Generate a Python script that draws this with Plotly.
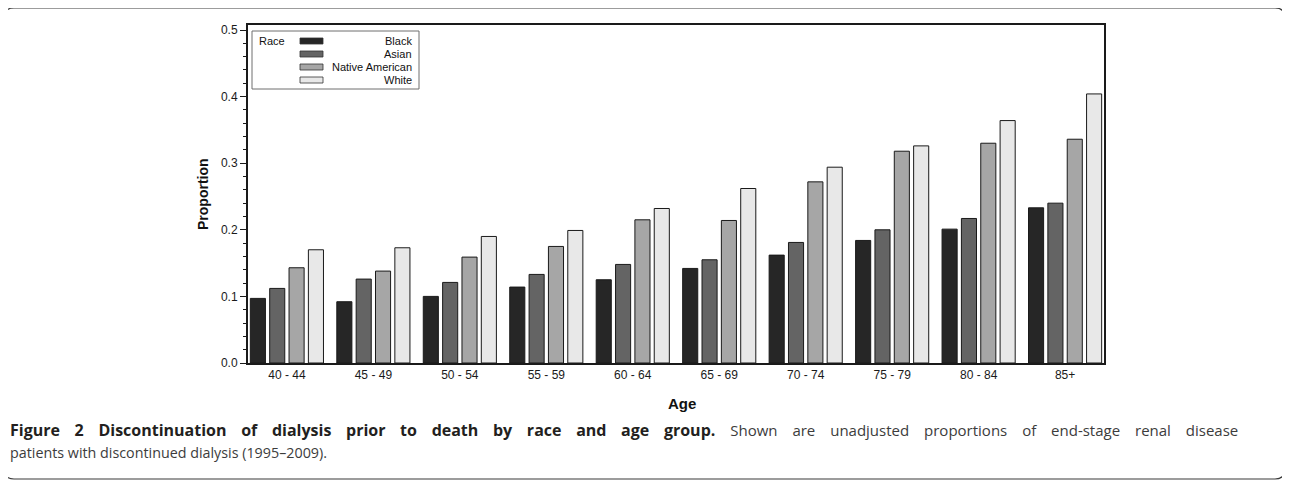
import plotly.graph_objects as go

# ---- data ----
age_groups = ["40 - 44", "45 - 49", "50 - 54", "55 - 59", "60 - 64",
              "65 - 69", "70 - 74", "75 - 79", "80 - 84", "85+"]
races = ["Black", "Asian", "Native American", "White"]
black = [0.097, 0.092, 0.100, 0.114, 0.125, 0.142, 0.162, 0.184, 0.201, 0.233]
asian = [0.112, 0.126, 0.121, 0.133, 0.148, 0.155, 0.181, 0.200, 0.217, 0.240]
native_american = [0.143, 0.138, 0.159, 0.175, 0.215, 0.214, 0.272, 0.318, 0.330, 0.336]
white = [0.170, 0.173, 0.190, 0.199, 0.232, 0.262, 0.294, 0.326, 0.364, 0.404]
series = [black, asian, native_american, white]
colors = ["#262626", "#646464", "#a6a6a6", "#e8e8e8"]
y_ticks = [0.0, 0.1, 0.2, 0.3, 0.4, 0.5]

caption_bold = "Figure 2 Discontinuation of dialysis prior to death by race and age group."
caption_rest = "Shown are unadjusted proportions of end-stage renal disease"
caption_line2 = "patients with discontinued dialysis (1995\u20132009)."

# ---- geometry (screen pixels; page body has an 8px margin) ----
OFF = 8
SW, SH = 1290, 482
W, H = SW - OFF, SH - OFF
L, R, T, B = 248, 1104, 25, 363


def px(x):
    return (x - L) / (R - L)


def py(y):
    return (B - y) / (B - T)


fig = go.Figure()
for name, vals, col in zip(races, series, colors):
    fig.add_trace(go.Bar(
        x=age_groups, y=vals, name=name,
        marker=dict(color=col, line=dict(color="#1a1a1a", width=1)),
        showlegend=False,
    ))

SANS = "Liberation Sans, Arial, sans-serif"
AX_FONT = dict(family=SANS, size=12, color="#1a1a1a")

fig.update_layout(
    width=W, height=H,
    margin=dict(l=L - OFF, r=SW - R, t=T - OFF, b=SH - B, autoexpand=False),
    paper_bgcolor="white", plot_bgcolor="white",
    barmode="group", bargap=0.105, bargroupgap=0.22,
    xaxis=dict(
        range=[-0.45, 9.45], showline=True, linecolor="#1a1a1a", linewidth=2,
        mirror=True, ticks="", tickfont=AX_FONT, showgrid=False,
    ),
    yaxis=dict(
        range=[0, 0.5075], showline=True, linecolor="#1a1a1a", linewidth=2,
        mirror=True, ticks="outside", ticklen=6, tickwidth=1, tickcolor="#1a1a1a",
        tickvals=y_ticks, ticktext=[f"{v:.1f}" for v in y_ticks],
        tickfont=AX_FONT, showgrid=False, zeroline=False,
        minor=dict(ticks="outside", ticklen=3, dtick=0.02, tickcolor="#1a1a1a", showgrid=False),
    ),
)

shapes = []
annotations = []

# axis titles
annotations.append(dict(xref="paper", yref="paper", x=px(682), y=py(403), text="<b>Age</b>",
                        showarrow=False, xanchor="center", yanchor="middle",
                        font=dict(family=SANS, size=15, color="#111")))
annotations.append(dict(xref="paper", yref="paper", x=px(203), y=py(194), text="<b>Proportion</b>",
                        showarrow=False, xanchor="center", yanchor="middle", textangle=-90,
                        font=dict(family=SANS, size=14, color="#111")))

# manual legend
shapes.append(dict(type="rect", xref="paper", yref="paper",
                   x0=px(252), x1=px(419), y0=py(31), y1=py(89),
                   line=dict(color="#6e6e6e", width=1), fillcolor="white", layer="above"))
annotations.append(dict(xref="paper", yref="paper", x=px(257), y=py(41), text="Race",
                        showarrow=False, xanchor="left", yanchor="middle",
                        font=dict(family=SANS, size=11, color="#111")))
row_y = [41, 54, 67, 80]
for name, col, ry in zip(races, colors, row_y):
    shapes.append(dict(type="rect", xref="paper", yref="paper",
                       x0=px(300), x1=px(323), y0=py(ry + 3), y1=py(ry - 3),
                       line=dict(color="#333", width=0.8), fillcolor=col, layer="above"))
    annotations.append(dict(xref="paper", yref="paper", x=px(414), y=py(ry), text=name,
                            showarrow=False, xanchor="right", yanchor="middle",
                            font=dict(family=SANS, size=11, color="#111")))

# outer rounded border
x0b, x1b, y0b, y1b, r = 4, 1285, 8, 479, 10
path = (f"M {px(x0b)},{py(y0b + r)} "
        f"Q {px(x0b)},{py(y0b)} {px(x0b + r)},{py(y0b)} "
        f"L {px(x1b - r)},{py(y0b)} "
        f"Q {px(x1b)},{py(y0b)} {px(x1b)},{py(y0b + r)} "
        f"L {px(x1b)},{py(y1b - r)} "
        f"Q {px(x1b)},{py(y1b)} {px(x1b - r)},{py(y1b)} "
        f"L {px(x0b + r)},{py(y1b)} "
        f"Q {px(x0b)},{py(y1b)} {px(x0b)},{py(y1b - r)} Z")
shapes.append(dict(type="path", xref="paper", yref="paper", path=path,
                   line=dict(color="#3a3a3a", width=1.2), layer="below"))

# caption (first line justified in the original -> widened word spacing)
CAP_FONT = dict(family="Open Sans, Noto Sans, sans-serif", size=14.3, color="#3c3c3c")
line1 = (f"<span style='font-size:16px;word-spacing:10.5px'><b>"
         f"<span style='color:#231f20'>{caption_bold}</span></b></span>"
         f"<span style='font-size:15px;word-spacing:11px'> {caption_rest}</span>")
annotations.append(dict(xref="paper", yref="paper", x=px(8), y=py(430),
                        text=line1, showarrow=False, xanchor="left", yanchor="middle", font=CAP_FONT))
annotations.append(dict(xref="paper", yref="paper", x=px(8), y=py(452),
                        text=caption_line2, showarrow=False, xanchor="left", yanchor="middle",
                        font=CAP_FONT))

fig.update_layout(shapes=shapes, annotations=annotations)
fig.write_html("out.html")
